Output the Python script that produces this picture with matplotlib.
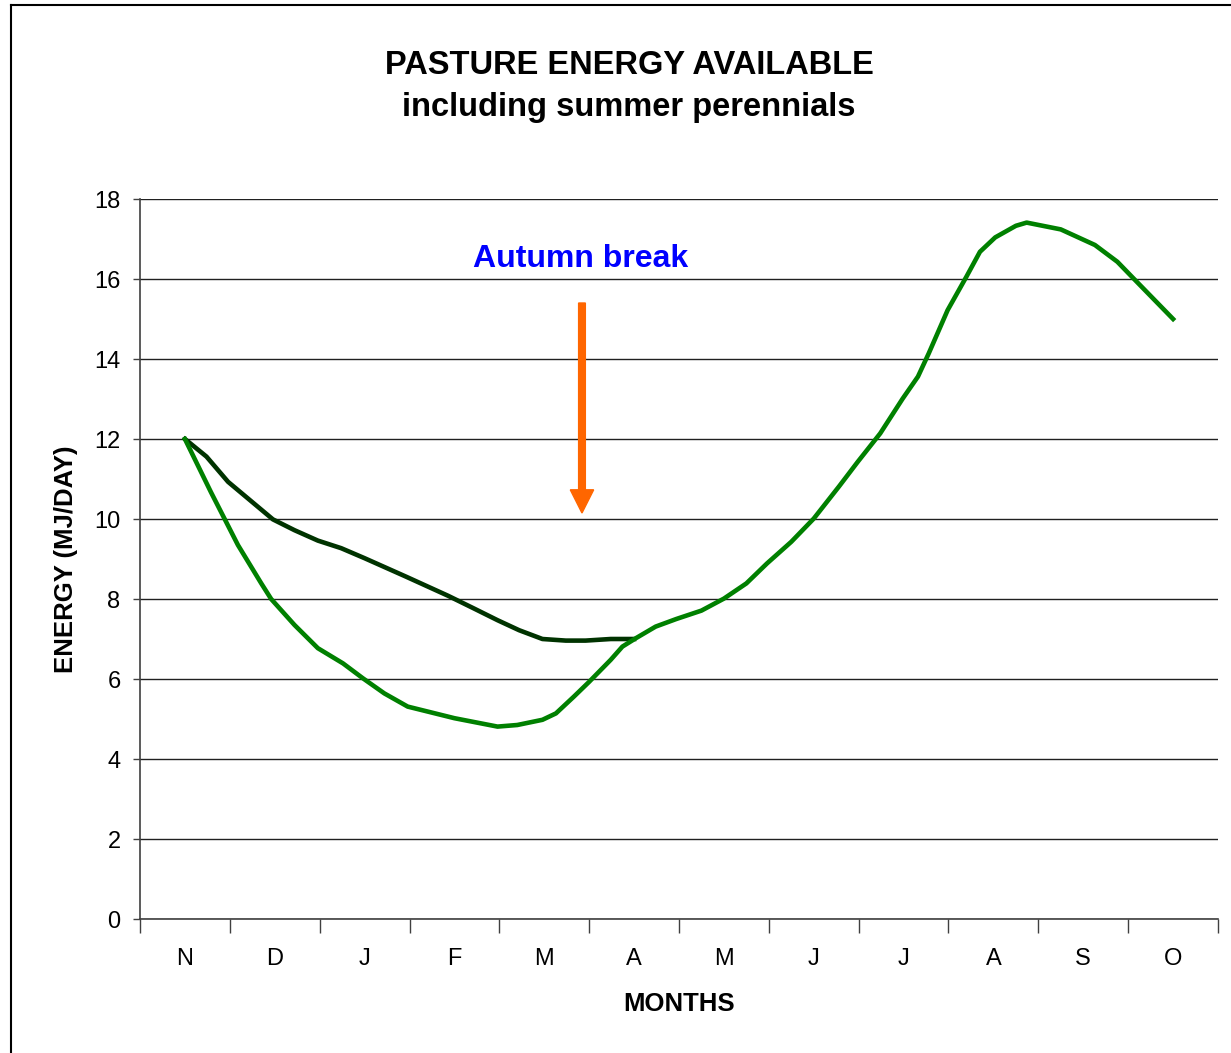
import matplotlib
matplotlib.use("Agg")
import matplotlib.pyplot as plt
from matplotlib.patches import FancyArrow
from matplotlib.lines import Line2D
import numpy as np

plt.rcParams['font.family'] = ['Liberation Sans', 'DejaVu Sans']

months = ['N', 'D', 'J', 'F', 'M', 'A', 'M', 'J', 'J', 'A', 'S', 'O']

# green line: with summer perennials (x = month index, fractional)
green_x = [0, 0.29, 0.59, 0.85, 0.96, 1.22, 1.48, 1.76, 1.98, 2.22, 2.48, 3.0,
           3.48, 3.70, 3.98, 4.13, 4.33, 4.5, 4.74, 4.87, 5.02, 5.24, 5.47,
           5.75, 6.0, 6.25, 6.48, 6.75, 7.0, 7.28, 7.49, 7.74, 7.99, 8.16,
           8.28, 8.49, 8.70, 8.85, 9.02, 9.25, 9.37, 9.75, 10.13, 10.38,
           10.57, 11.0]
green_y = [12.0, 10.67, 9.35, 8.39, 8.0, 7.35, 6.77, 6.39, 6.02, 5.64, 5.31, 5.02,
           4.81, 4.85, 4.98, 5.14, 5.56, 5.93, 6.48, 6.81, 7.02, 7.31, 7.5,
           7.71, 8.01, 8.39, 8.89, 9.43, 10.01, 10.81, 11.43, 12.14, 13.01, 13.56,
           14.14, 15.22, 16.06, 16.68, 17.04, 17.33, 17.41, 17.24, 16.85, 16.43,
           15.99, 15.0]

# dark line: without summer perennials, N to A
dark_x = [0, 0.24, 0.48, 0.98, 1.22, 1.48, 1.74, 2.0, 2.46, 2.93, 3.22, 3.48,
          3.72, 3.98, 4.24, 4.46, 4.74, 5.0]
dark_y = [12.0, 11.56, 10.93, 9.99, 9.72, 9.46, 9.27, 9.02, 8.56, 8.08, 7.76, 7.47,
          7.22, 7.0, 6.96, 6.96, 7.0, 7.0]

fig = plt.figure(figsize=(12.31, 10.53), dpi=100)
ax = fig.add_axes([140/1231, 1-919/1053, 1078/1231, 720/1053])

ax.plot(dark_x, dark_y, color='#003300', lw=3.3, solid_joinstyle='round', zorder=3)
ax.plot(green_x, green_y, color='#008000', lw=3.3, solid_joinstyle='round', zorder=4)

ax.set_xlim(-0.5, 11.5)
ax.set_ylim(0, 18)
ax.set_yticks(range(0, 19, 2))
ax.set_xticks(np.arange(-0.5, 12, 1))
ax.set_xticklabels([])
ax.set_xticks(range(12), minor=True)
ax.set_xticklabels(months, minor=True, fontsize=17)
ax.tick_params(axis='x', which='major', length=10, width=1, color='#404040', direction='out')
ax.tick_params(axis='x', which='minor', length=0, pad=21)
ax.tick_params(axis='y', length=5, width=1, color='#404040', labelsize=17, pad=9)
ax.grid(axis='y', color='#202020', lw=1)
ax.set_axisbelow(True)
for s in ['top', 'right']:
    ax.spines[s].set_visible(False)
for s in ['left', 'bottom']:
    ax.spines[s].set_color('#404040')
    ax.spines[s].set_linewidth(1.2)

ax.set_xlabel('MONTHS', fontsize=18.5, fontweight='bold', labelpad=16)
ax.set_ylabel('ENERGY (MJ/DAY)', fontsize=18.5, fontweight='bold', labelpad=12)

fig.text(629/1231, 1-66/1053, 'PASTURE ENERGY AVAILABLE', ha='center', va='center',
         fontsize=23.5, fontweight='bold')
fig.text(629/1231, 1-107/1053, 'including summer perennials', ha='center', va='center',
         fontsize=23.5, fontweight='bold')

ax.text(4.4, 16.5, 'Autumn break', color='#0000FF', fontsize=23, fontweight='bold',
        ha='center', va='center')
ax.add_patch(FancyArrow(4.42, 15.4, 0, -5.25, width=0.075, head_width=0.26,
                        head_length=0.58, length_includes_head=True,
                        color='#FF6600', zorder=5))

# outer frame (left and top edges visible)
fig.add_artist(Line2D([11/1231, 11/1231], [0, 1-5/1053], color='black', lw=1.5))
fig.add_artist(Line2D([11/1231, 1], [1-5/1053, 1-5/1053], color='black', lw=1.5))

fig.savefig('out.png', dpi=100)
